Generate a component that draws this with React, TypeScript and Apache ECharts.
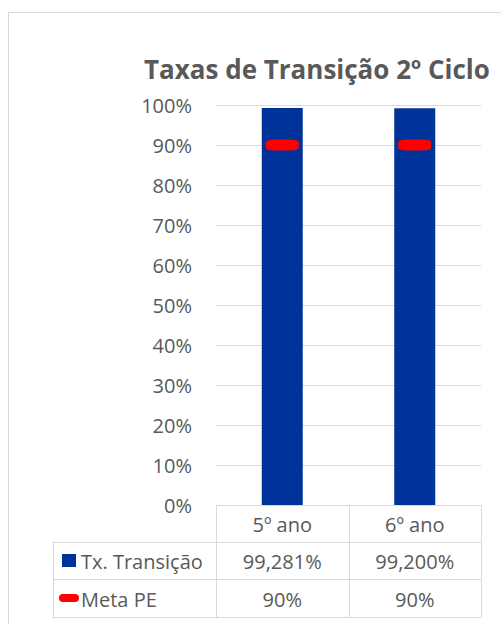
import React, { useEffect, useRef } from "react";
import * as echarts from "echarts";

const categories = ["5º ano", "6º ano"];
const txTransicao = [0.99281, 0.992];
const metaPE = [0.9, 0.9];
const seriesNames = ["Tx. Transição", "Meta PE"];
const title = "Taxas de Transição 2º Ciclo";

const fmtTx = (v: number) => (v * 100).toFixed(3).replace(".", ",") + "%";
const fmtMeta = (v: number) => Math.round(v * 100) + "%";

const W = 501;
const H = 624;
const gridL = 216;
const gridR = 481;
const gridT = 105;
const gridB = 505;
const rows = [505, 542, 579, 617];
const tableLeft = 53;
const TXT = "#595959";
const LINE = "#D9D9D9";
const FONT = "'Open Sans', sans-serif";

export default function App() {
  const ref = useRef<HTMLDivElement>(null);
  useEffect(() => {
    if (!ref.current) return;
    const chart = echarts.init(ref.current, undefined, { renderer: "svg" });
    const colW = (gridR - gridL) / categories.length;
    const graphics: any[] = [];
    const ln = (x1: number, y1: number, x2: number, y2: number) =>
      graphics.push({
        type: "line",
        silent: true,
        shape: { x1, y1, x2, y2 },
        style: { stroke: LINE, lineWidth: 1 },
      });
    // chart frame
    graphics.push({
      type: "rect",
      silent: true,
      shape: { x: 8.5, y: 12.5, width: 700, height: 700 },
      style: { fill: "none", stroke: LINE, lineWidth: 1 },
    });
    // table lines
    ln(gridL, rows[0] + 0.5, gridR, rows[0] + 0.5);
    for (let i = 1; i < rows.length; i++) ln(tableLeft, rows[i] + 0.5, gridR, rows[i] + 0.5);
    ln(tableLeft + 0.5, rows[1], tableLeft + 0.5, rows[3]);
    for (let c = 0; c <= categories.length; c++) {
      const x = Math.round(gridL + c * colW) + 0.5;
      ln(x, rows[0], x, rows[3]);
    }
    const cellText = (text: string, cx: number, cy: number, align = "center") =>
      graphics.push({
        type: "text",
        silent: true,
        x: cx,
        y: cy,
        style: {
          text,
          fill: TXT,
          font: `20px ${FONT}`,
          align,
          verticalAlign: "middle",
        },
      });
    categories.forEach((c, i) => {
      const cx = gridL + colW * (i + 0.5);
      cellText(c, cx, (rows[0] + rows[1]) / 2 + 1);
      cellText(fmtTx(txTransicao[i]), cx, (rows[1] + rows[2]) / 2 + 1);
      cellText(fmtMeta(metaPE[i]), cx, (rows[2] + rows[3]) / 2 + 1);
    });
    // legend keys
    graphics.push({
      type: "rect",
      silent: true,
      shape: { x: 62, y: 554, width: 14, height: 13 },
      style: { fill: "#003399" },
    });
    graphics.push({
      type: "rect",
      silent: true,
      shape: { x: 59, y: 594, width: 20, height: 8, r: 4 },
      style: { fill: "#FF0000" },
    });
    cellText(seriesNames[0], 81, (rows[1] + rows[2]) / 2 + 1, "left");
    cellText(seriesNames[1], 81, (rows[2] + rows[3]) / 2 + 1, "left");

    chart.setOption({
      animation: false,
      backgroundColor: "#fff",
      title: {
        text: title,
        left: 139,
        top: 51,
        textStyle: { color: TXT, fontFamily: FONT, fontSize: 26, fontWeight: "bold" },
      },
      grid: { left: gridL, right: W - gridR, top: gridT, bottom: H - gridB, containLabel: false },
      xAxis: {
        type: "category",
        data: categories,
        axisLine: { show: false },
        axisTick: { show: false },
        axisLabel: { show: false },
      },
      yAxis: {
        type: "value",
        min: 0,
        max: 1,
        interval: 0.1,
        axisLine: { show: false },
        axisTick: { show: false },
        splitLine: { lineStyle: { color: LINE, width: 1 } },
        axisLabel: {
          formatter: (v: number) => Math.round(v * 100) + "%",
          color: TXT,
          fontFamily: FONT,
          fontSize: 20,
          margin: 24,
        },
      },
      series: [
        {
          name: seriesNames[0],
          type: "bar",
          data: txTransicao,
          barWidth: 41,
          itemStyle: { color: "#003399" },
        },
        {
          name: seriesNames[1],
          type: "line",
          data: metaPE,
          lineStyle: { width: 0, opacity: 0 },
          symbol: "roundRect",
          symbolSize: [33, 11],
          itemStyle: { color: "#FF0000" },
          z: 5,
        },
      ],
      graphic: graphics,
    });
    return () => chart.dispose();
  }, []);
  return (
    <div
      ref={ref}
      style={{ position: "fixed", left: 0, top: 0, width: W, height: H }}
    />
  );
}
